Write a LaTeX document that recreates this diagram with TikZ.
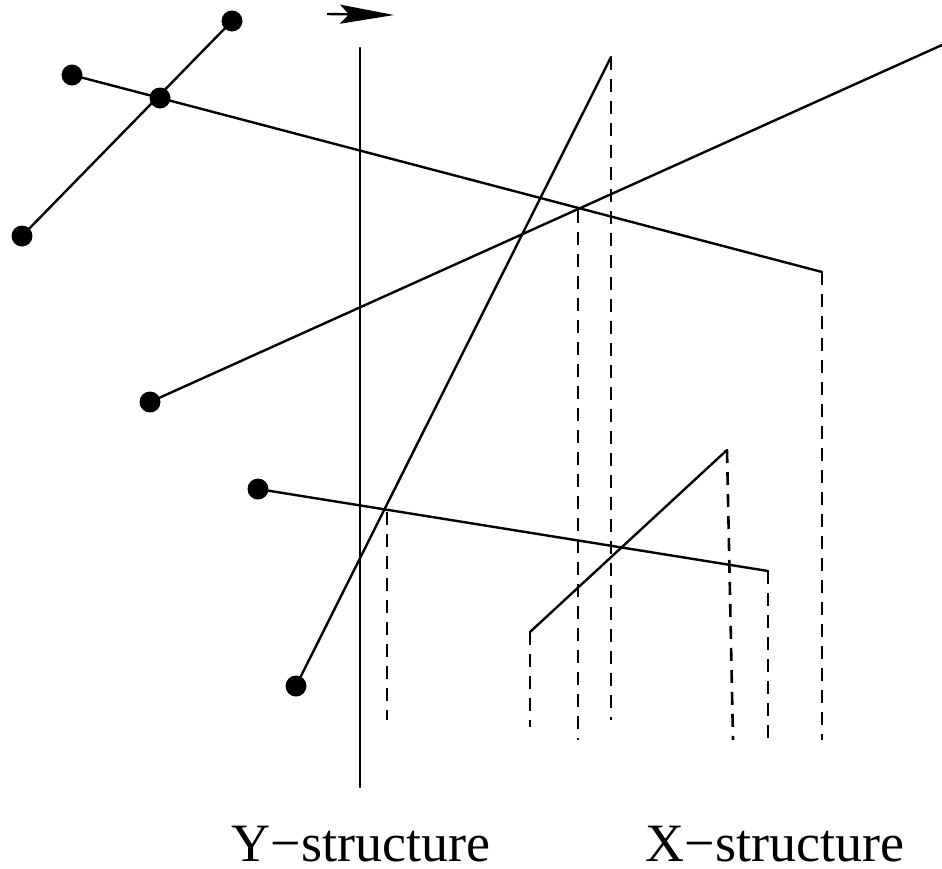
\documentclass[tikz,border=0pt]{standalone}
\usepackage{fontspec}
\setmainfont{Liberation Serif}
\usetikzlibrary{arrows.meta}
\begin{document}
\begin{tikzpicture}[x=1pt,y=-1pt,
  solidline/.style={line width=2.4pt, line cap=round},
  dashline/.style={line width=2.6pt, dash pattern=on 13pt off 9pt},
  dot/.style={circle, fill=black, inner sep=0pt, minimum size=21pt},
  lbl/.style={anchor=base, inner sep=0pt, font=\fontsize{54}{60}\selectfont}]
\useasboundingbox (0,0) rectangle (942,868);
% dots
\node[dot] (d1) at (232,21) {};
\node[dot] (d2) at (72,75) {};
\node[dot] (d3) at (160,98) {};
\node[dot] (d4) at (22,236) {};
\node[dot] (d5) at (150,402) {};
\node[dot] (d6) at (258,489) {};
\node[dot] (d7) at (296,686) {};
% coordinates
\coordinate (a1) at (327,14);
\coordinate (a2) at (394,15);
\coordinate (v1) at (360,48);
\coordinate (v2) at (360,787);
\coordinate (p2) at (822,272);
\coordinate (p2b) at (822,740);
\coordinate (p5) at (942,45);
\coordinate (p6) at (611,57);
\coordinate (p6b) at (611,720);
\coordinate (p7) at (768,571);
\coordinate (p7b) at (768,740);
\coordinate (q1) at (387,512);
\coordinate (q1b) at (387,720);
\coordinate (q2) at (578,210);
\coordinate (q2b) at (578,740);
\coordinate (x1) at (530,632);
\coordinate (x1b) at (530,727);
\coordinate (x2) at (727,450);
\coordinate (x2b) at (733,740);
% arrow
\draw[line width=2.4pt, -{Stealth[length=54pt,width=19pt,inset=9pt]}] (a1) -- (a2);
% solid lines
\draw[solidline] (d4.center) -- (d1.center);
\draw[solidline] (d2.center) -- (d3.center) -- (p2);
\draw[solidline] (v1) -- (v2);
\draw[solidline] (d5.center) -- (p5);
\draw[solidline] (d7.center) -- (p6);
\draw[solidline] (d6.center) -- (p7);
\draw[solidline] (x1) -- (x2);
% dashed lines
\draw[dashline] (p2) -- (p2b);
\draw[dashline] (p6) -- (p6b);
\draw[dashline] (p7) -- (p7b);
\draw[dashline] (q1) -- (q1b);
\draw[dashline] (q2) -- (q2b);
\draw[dashline] (x1) -- (x1b);
\draw[dashline] (x2) -- (x2b);
% labels
\node[lbl] (ly) at (361,861) {Y−structure};
\node[lbl] (lx) at (775,861) {X−structure};
\end{tikzpicture}
\end{document}
